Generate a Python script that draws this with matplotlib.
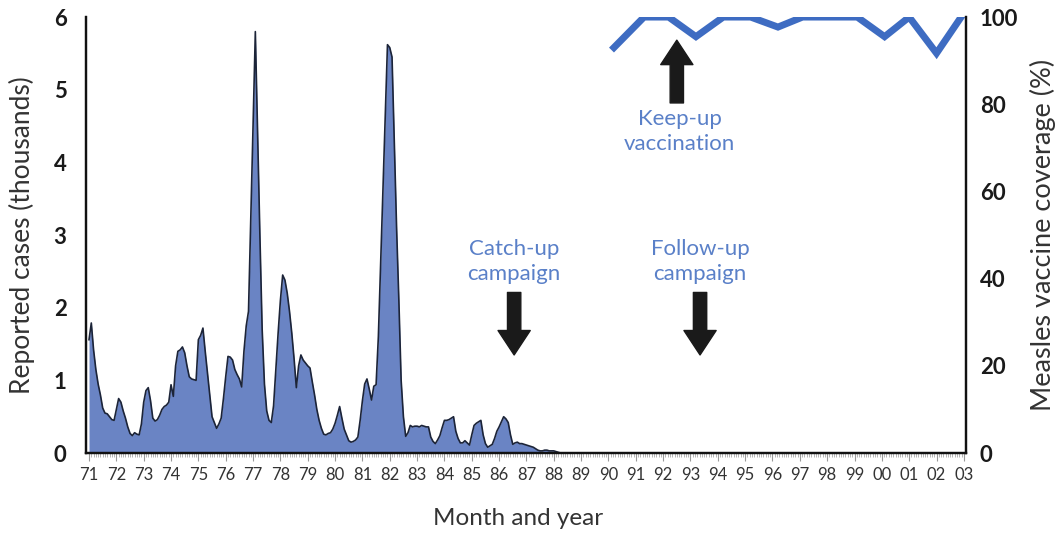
import numpy as np
import matplotlib.pyplot as plt
from matplotlib.ticker import FixedLocator, FuncFormatter

# monthly reported measles cases (thousands), Jan 1971 onwards
start_year = 1971
cases = [
    1.56, 1.79, 1.42, 1.15, 0.95, 0.80, 0.62, 0.55, 0.54, 0.50, 0.46, 0.45,  # 1971
    0.60, 0.75, 0.70, 0.58, 0.48, 0.36, 0.27, 0.24, 0.28, 0.26, 0.25, 0.40,  # 1972
    0.70, 0.86, 0.90, 0.72, 0.48, 0.44, 0.46, 0.52, 0.60, 0.64, 0.66, 0.70,  # 1973
    0.94, 0.78, 1.20, 1.40, 1.42, 1.46, 1.38, 1.20, 1.05, 1.02, 1.01, 1.00,  # 1974
    1.56, 1.62, 1.72, 1.40, 1.10, 0.80, 0.50, 0.42, 0.34, 0.40, 0.48, 0.75,  # 1975
    1.05, 1.33, 1.32, 1.28, 1.15, 1.08, 1.02, 0.91, 1.40, 1.75, 1.95, 3.20,  # 1976
    4.50, 5.80, 4.40, 3.00, 1.70, 0.95, 0.58, 0.45, 0.42, 0.65, 1.15, 1.65,  # 1977
    2.10, 2.45, 2.38, 2.20, 1.95, 1.65, 1.30, 0.90, 1.20, 1.35, 1.28, 1.24,  # 1978
    1.20, 1.17, 0.98, 0.80, 0.60, 0.45, 0.34, 0.26, 0.25, 0.27, 0.28, 0.33,  # 1979
    0.41, 0.52, 0.64, 0.48, 0.33, 0.25, 0.17, 0.15, 0.16, 0.18, 0.22, 0.45,  # 1980
    0.72, 0.95, 1.02, 0.88, 0.73, 0.92, 0.94, 1.60, 2.60, 3.60, 4.60, 5.62,  # 1981
    5.58, 5.45, 4.30, 3.10, 2.10, 1.00, 0.50, 0.23, 0.28, 0.38, 0.36, 0.37,  # 1982
    0.37, 0.36, 0.38, 0.37, 0.36, 0.36, 0.22, 0.16, 0.13, 0.18, 0.24, 0.35,  # 1983
    0.45, 0.45, 0.46, 0.48, 0.50, 0.30, 0.20, 0.14, 0.14, 0.17, 0.14, 0.11,  # 1984
    0.25, 0.38, 0.41, 0.43, 0.45, 0.25, 0.13, 0.08, 0.10, 0.12, 0.20, 0.30,  # 1985
    0.36, 0.43, 0.50, 0.47, 0.42, 0.25, 0.12, 0.14, 0.15, 0.13, 0.13, 0.12,  # 1986
    0.11, 0.10, 0.09, 0.08, 0.06, 0.04, 0.03, 0.03, 0.04, 0.04, 0.03, 0.03,  # 1987
    0.03, 0.02, 0.01, 0.00, 0.00, 0.00, 0.00, 0.00, 0.00, 0.00, 0.00, 0.00,  # 1988
]

# yearly measles vaccine coverage (%)
coverage_x = [1990.2, 1991.3, 1992.2, 1993.2, 1994.2, 1995.2, 1996.2,
              1997.1, 1998.1, 1999.1, 2000.1, 2001.0, 2002.0, 2002.9]
coverage_pct = [93, 100, 100, 95.5, 100, 100, 97.7, 100, 100, 100, 95.5, 100, 91.7, 100]

year_ticks = list(range(1971, 2004))

fill_col = '#6a84c4'
edge_col = '#1c2438'
line_col = '#3e6cc2'
note_col = '#5a80c8'
label_col = '#333333'

plt.rcParams['font.family'] = ['Lato', 'DejaVu Sans']

fig = plt.figure(figsize=(10.58, 5.33), dpi=100)
ax = fig.add_axes([0.0813, 0.150, 0.8318, 0.818])
ax2 = ax.twinx()

t = start_year + np.arange(len(cases)) / 12.0
ax.fill_between(t, cases, 0, color=fill_col, lw=0)
ax.plot(t, cases, color=edge_col, lw=1.2)

ax2.plot(coverage_x, coverage_pct, color=line_col, lw=5, solid_joinstyle='miter')

ax.set_xlim(1970.89, 2003.08)
ax.set_ylim(0, 6)
ax2.set_ylim(0, 100)

for a in (ax, ax2):
    a.spines['top'].set_visible(False)
    for s in ('left', 'right', 'bottom'):
        a.spines[s].set_linewidth(1.6)
        a.spines[s].set_color('#111111')

ax.set_yticks(range(0, 7))
ax2.set_yticks(range(0, 101, 20))
ax.tick_params(axis='y', length=0, pad=14, labelsize=16)
ax2.tick_params(axis='y', length=0, pad=10, labelsize=16)
for lab in ax.get_yticklabels() + ax2.get_yticklabels():
    lab.set_fontweight('bold')
    lab.set_color('#1a1a1a')

ax.xaxis.set_major_locator(FixedLocator(year_ticks))
ax.xaxis.set_minor_locator(FixedLocator(
    [y + m / 12 for y in year_ticks[:-1] for m in range(1, 12)]))
ax.xaxis.set_major_formatter(FuncFormatter(lambda v, p: '%02d' % (int(round(v)) % 100)))
ax.tick_params(axis='x', which='major', length=6, width=0.8, color='#999999',
               labelsize=12, labelcolor='#333333', pad=4)
ax.tick_params(axis='x', which='minor', length=3, width=0.6, color='#aaaaaa')

# axis titles placed in figure coordinates
fig.text(0.021, 0.559, 'Reported cases (thousands)', rotation=90, ha='center',
         va='center', fontsize=19, color=label_col)
fig.text(0.986, 0.559, 'Measles vaccine coverage (%)', rotation=90, ha='center',
         va='center', fontsize=19.5, color=label_col)
fig.text(0.49, 0.028, 'Month and year', ha='center', va='center',
         fontsize=17.5, color=label_col)

arrow = dict(arrowstyle='simple,head_length=1.1,head_width=1.45,tail_width=0.6',
             mutation_scale=16, color='#1a1a1a', shrinkA=0, shrinkB=0)

ax.annotate('', xy=(1986.55, 1.35), xytext=(1986.55, 2.21), arrowprops=arrow)
ax.text(1986.55, 2.33, 'Catch-up\ncampaign', ha='center', va='bottom',
        fontsize=16, color=note_col, linespacing=1.3)

ax.annotate('', xy=(1993.35, 1.35), xytext=(1993.35, 2.21), arrowprops=arrow)
ax.text(1993.35, 2.33, 'Follow-up\ncampaign', ha='center', va='bottom',
        fontsize=16, color=note_col, linespacing=1.3)

ax2.annotate('', xy=(1992.5, 94.7), xytext=(1992.5, 80.3), arrowprops=arrow)
ax2.text(1992.6, 78.8, 'Keep-up\nvaccination', ha='center', va='top',
         fontsize=16, color=note_col, linespacing=1.3)

fig.savefig('out.png', dpi=100)
